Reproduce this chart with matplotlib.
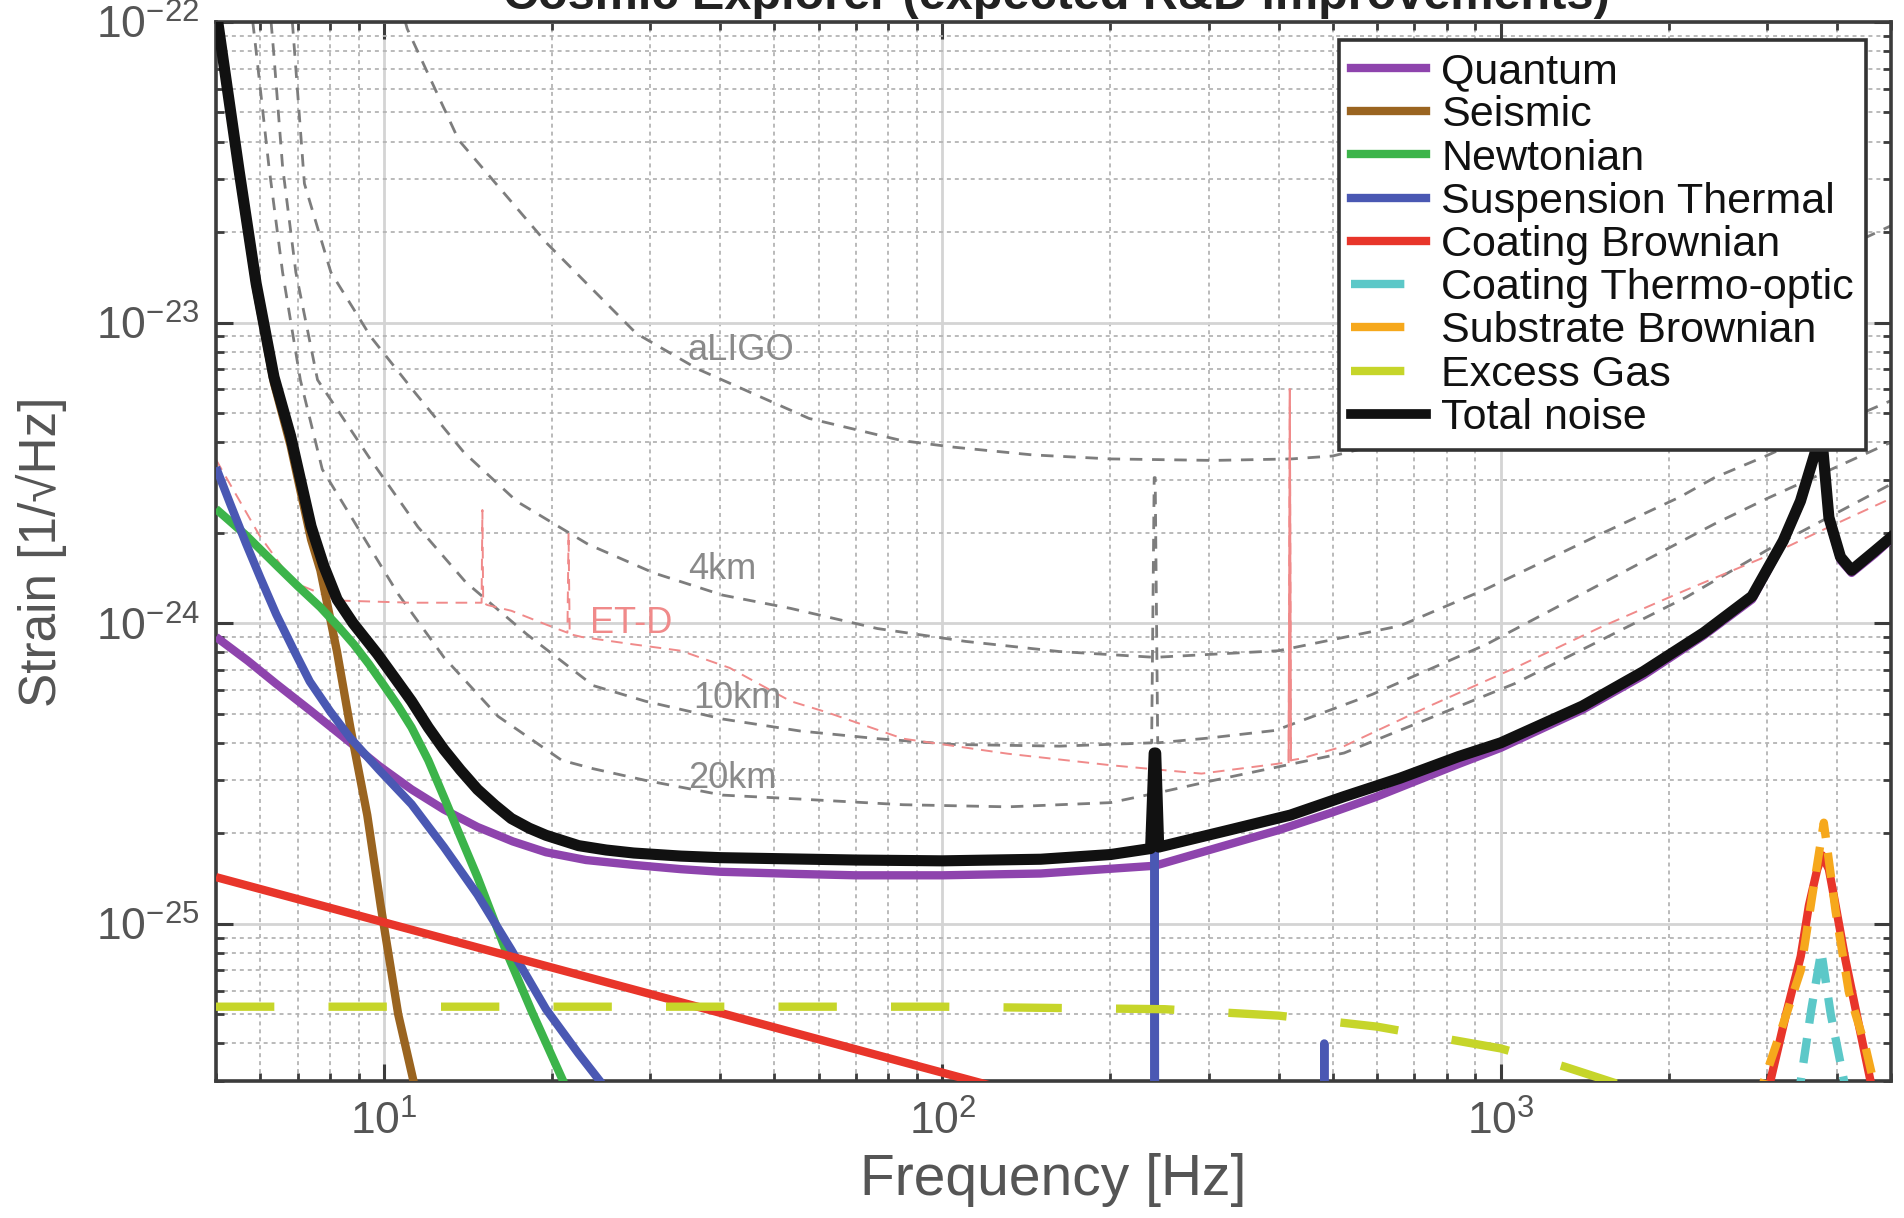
import numpy as np
import matplotlib
matplotlib.use("Agg")
import matplotlib.pyplot as plt
from matplotlib.lines import Line2D
from matplotlib.ticker import NullFormatter

plt.rcParams['font.family'] = ['Liberation Sans', 'DejaVu Sans']
plt.rcParams['mathtext.fontset'] = 'custom'
plt.rcParams['mathtext.rm'] = 'Liberation Sans'
plt.rcParams['mathtext.default'] = 'regular'

# ---- noise budget curves (frequency in Hz, strain in 1/sqrt(Hz)) ----
quantum_f = [5, 5.7, 6.4, 7.4, 8.5, 9.8, 11.2, 12.8, 14.7, 17, 19.5, 23, 28, 34, 40, 55, 70, 100,
             150, 240, 330, 400, 500, 600, 840, 1000, 1400, 1800, 2310, 2820, 3200, 3440, 3650,
             3740, 3870, 4060, 4250, 4680, 5000]
quantum_h = [9.0e-25, 7.5e-25, 6.3e-25, 5.1e-25, 4.15e-25, 3.35e-25, 2.8e-25, 2.4e-25, 2.1e-25,
             1.88e-25, 1.73e-25, 1.63e-25, 1.57e-25, 1.52e-25, 1.49e-25, 1.465e-25, 1.45e-25,
             1.45e-25, 1.47e-25, 1.56e-25, 1.85e-25, 2.05e-25, 2.35e-25, 2.65e-25, 3.4e-25,
             3.85e-25, 5.15e-25, 6.7e-25, 9.1e-25, 1.2e-24, 1.85e-24, 2.5e-24, 3.6e-24, 4.5e-24,
             2.2e-24, 1.62e-24, 1.47e-24, 1.7e-24, 1.9e-24]

seismic_f = [5, 5.5, 5.9, 6.35, 6.8, 7.4, 7.69, 8.24, 8.7, 9.33, 9.86, 10.6, 11.2, 11.6]
seismic_h = [1.07e-22, 3.1e-23, 1.3e-23, 6.3e-24, 3.9e-24, 1.9e-24, 1.5e-24, 8.0e-25, 4.5e-25,
             2.3e-25, 1.15e-25, 5.0e-26, 3.2e-26, 2.4e-26]

newtonian_f = [5, 5.66, 6.41, 7.0, 7.69, 8.3, 8.83, 9.4, 10, 10.6, 11.2, 12.0, 12.8, 13.7, 14.7,
               16.5, 18.4, 21.1, 22]
newtonian_h = [2.4e-24, 1.96e-24, 1.56e-24, 1.33e-24, 1.13e-24, 9.7e-25, 8.5e-25, 7.3e-25,
               6.2e-25, 5.3e-25, 4.5e-25, 3.5e-25, 2.64e-25, 1.95e-25, 1.43e-25, 8.2e-26, 5.1e-26,
               2.9e-26, 2.3e-26]

susp_f = [5, 5.3, 5.66, 6.0, 6.41, 6.9, 7.36, 8.0, 8.7, 9.8, 11.2, 12.8, 14.7, 16.9, 19.5, 22.3,
          24.7, 27, 236, 239.3, 240, 240.7, 244, 478, 482, 483, 484, 488, 5000]
susp_h = [3.3e-24, 2.5e-24, 1.84e-24, 1.42e-24, 1.07e-24, 8.1e-25, 6.4e-25, 5.1e-25, 4.15e-25,
          3.25e-25, 2.5e-25, 1.8e-25, 1.25e-25, 8.2e-26, 5.2e-26, 3.7e-26, 2.9e-26, 2.2e-26,
          8e-29, 2e-27, 1.75e-25, 2e-27, 8e-29, 1.3e-29, 3e-27, 4.0e-26, 3e-27, 1.3e-29, 1e-31]

coat_brown_f = [5, 120, 1000, 2500, 2800, 3044, 3240, 3446, 3564, 3689, 3765, 3870, 3979, 4146,
                4380, 4590, 4800, 5000]
coat_brown_h = [1.43e-25, 2.92e-26, 1.01e-26, 6.4e-27, 1.8e-26, 3.03e-26, 4.96e-26, 7.8e-26,
                1.15e-25, 1.52e-25, 1.69e-25, 1.52e-25, 1.15e-25, 7.55e-26, 4.6e-26, 3.03e-26,
                2.0e-26, 1.5e-26]

coat_to_f = [3000, 3446, 3600, 3750, 3900, 4120, 4500]
coat_to_h = [1e-26, 3.0e-26, 5.2e-26, 8.1e-26, 5.0e-26, 3.0e-26, 1.2e-26]

subst_f = [2500, 2960, 3200, 3446, 3616, 3790, 3979, 4205, 4500, 4650, 5000]
subst_h = [1.0e-26, 3.0e-26, 4.6e-26, 7.0e-26, 1.25e-25, 2.17e-25, 1.1e-25, 5.9e-26, 3.9e-26,
           3.0e-26, 2.0e-26]

gas_f = [5, 100, 250, 400, 600, 1000, 1300, 1700]
gas_h = [5.3e-26, 5.3e-26, 5.2e-26, 4.95e-26, 4.55e-26, 3.85e-26, 3.35e-26, 2.85e-26]

total_f = [5, 5.5, 5.9, 6.35, 6.8, 7.4, 7.8, 8.24, 8.8, 9.73, 10.5, 11.2, 12.0, 12.8, 13.7, 14.7,
           15.8, 16.9, 18.2, 19.5, 22.3, 25, 28, 34, 40, 70, 100, 150, 200, 236, 239.5, 241, 244,
           326, 420, 524, 660, 840, 1000, 1400, 1800, 2310, 2820, 3206, 3442, 3650, 3740, 3870,
           4060, 4250, 4680, 5000]
total_h = [1.1e-22, 3.2e-23, 1.35e-23, 6.6e-24, 4.2e-24, 2.1e-24, 1.55e-24, 1.2e-24, 1.0e-24,
           7.9e-25, 6.5e-25, 5.5e-25, 4.5e-25, 3.8e-25, 3.25e-25, 2.8e-25, 2.48e-25, 2.24e-25,
           2.08e-25, 1.97e-25, 1.82e-25, 1.76e-25, 1.72e-25, 1.68e-25, 1.66e-25, 1.63e-25,
           1.62e-25, 1.64e-25, 1.7e-25, 1.78e-25, 3.7e-25, 3.7e-25, 1.8e-25, 2.05e-25, 2.3e-25,
           2.65e-25, 3.05e-25, 3.6e-25, 4.0e-25, 5.3e-25, 6.9e-25, 9.3e-25, 1.23e-24, 1.88e-24,
           2.55e-24, 3.65e-24, 4.6e-24, 2.25e-24, 1.66e-24, 1.5e-24, 1.74e-24, 1.93e-24]

# ---- reference sensitivities ----
aligo_f = [10.5, 11.0, 13.6, 19.6, 28.3, 36.5, 57.7, 84.6, 105, 145, 200, 306, 422, 500, 700,
           1000, 2000, 3000, 5000]
aligo_h = [1.3e-22, 9.5e-23, 4.05e-23, 1.83e-23, 9.2e-24, 7.0e-24, 4.8e-24, 4.05e-24, 3.85e-24,
           3.63e-24, 3.52e-24, 3.48e-24, 3.52e-24, 3.6e-24, 4.2e-24, 5.5e-24, 9.5e-24, 1.35e-23,
           2.1e-23]

ce4_f = [6.8, 6.95, 7.2, 8.03, 9.47, 11.4, 13.9, 17.3, 23.2, 30.4, 40.4, 53.5, 76.5, 110, 162,
         240, 400, 660, 942, 1510, 2094, 2415, 2985, 4000, 5000]
ce4_h = [1.2e-22, 7.0e-23, 2.9e-23, 1.47e-23, 8.96e-24, 5.8e-24, 3.7e-24, 2.54e-24, 1.83e-24,
         1.47e-24, 1.24e-24, 1.12e-24, 9.6e-25, 8.7e-25, 8.05e-25, 7.7e-25, 8.1e-25, 9.8e-25,
         1.3e-24, 1.98e-24, 2.63e-24, 3.05e-24, 3.6e-24, 4.6e-24, 5.5e-24]

ce10_f = [6.2, 6.34, 6.58, 6.95, 7.6, 9.46, 11.5, 14.0, 18.0, 23.7, 29.4, 40.4, 55.6, 76.5, 105,
          162, 237, 239.5, 240.5, 243, 300, 395, 589, 942, 1510, 2415, 3000, 5000]
ce10_h = [1.3e-22, 8e-23, 3.3e-23, 1.47e-23, 6.45e-24, 3.5e-24, 2.09e-24, 1.37e-24, 9.2e-25,
          6.2e-25, 5.5e-25, 4.8e-25, 4.38e-25, 4.13e-25, 3.95e-25, 3.9e-25, 4.0e-25, 3.05e-24,
          3.05e-24, 4.0e-25, 4.15e-25, 4.4e-25, 5.8e-25, 8.5e-25, 1.35e-24, 2.14e-24, 2.6e-24,
          4.0e-24]

ce20_f = [5.7, 5.9, 6.22, 6.58, 7.08, 7.75, 10.6, 12.8, 16.0, 20.8, 23.7, 29.4, 40.4, 55.6, 85,
          131, 200, 248, 306, 524, 1060, 2148, 3062, 5000]
ce20_h = [1.4e-22, 8e-23, 3.3e-23, 1.47e-23, 6.45e-24, 3.25e-24, 1.25e-24, 7.7e-25, 4.9e-25,
          3.5e-25, 3.28e-25, 3.0e-25, 2.68e-25, 2.6e-25, 2.49e-25, 2.45e-25, 2.53e-25, 2.75e-25,
          3.0e-25, 3.7e-25, 6.3e-25, 1.22e-24, 1.79e-24, 2.9e-24]

etd_f = [5, 5.98, 6.87, 8.24, 11.2, 14.7, 14.95, 15.0, 15.05, 15.3, 16.9, 19.5, 21.3, 21.4, 21.5,
         22.6, 28, 34, 41.6, 53.5, 62, 85, 131, 200, 291, 395, 417, 419, 421, 440, 524, 745, 1060,
         1510, 2148, 3062, 3872, 5000]
etd_h = [3.5e-24, 1.96e-24, 1.37e-24, 1.19e-24, 1.17e-24, 1.17e-24, 1.17e-24, 2.38e-24, 1.17e-24,
         1.15e-24, 1.1e-24, 9.9e-25, 9.3e-25, 2.0e-24, 9.2e-25, 9.0e-25, 8.5e-25, 8.1e-25, 7.1e-25,
         5.5e-25, 5.06e-25, 4.13e-25, 3.68e-25, 3.37e-25, 3.16e-25, 3.4e-25, 3.45e-25, 6.0e-24,
         3.5e-25, 3.55e-25, 3.9e-25, 5.3e-25, 7.1e-25, 9.7e-25, 1.29e-24, 1.7e-24, 2.09e-24, 2.6e-24]

curve_labels = ['aLIGO', '4km', '10km', '20km', 'ET-D']
label_f = [35, 35, 35.8, 35, 23.4]
label_h = [8.1e-24, 1.51e-24, 5.6e-25, 3.05e-25, 1.0e-24]

legend_names = ['Quantum', 'Seismic', 'Newtonian', 'Suspension Thermal', 'Coating Brownian',
                'Coating Thermo-optic', 'Substrate Brownian', 'Excess Gas', 'Total noise']
colors = ['#8e44ad', '#9a6420', '#3cb44a', '#4a58b3', '#e8352a', '#5cc8c8', '#f6a81c',
          '#c6d52a', '#111111']

fig = plt.figure(figsize=(19.04, 12.18), dpi=100)
ax = fig.add_axes([216 / 1904, 1 - 1081 / 1218, 1675 / 1904, 1059 / 1218])
ax.set_xscale('log')
ax.set_yscale('log')
ax.set_xlim(5, 5000)
ax.set_ylim(3e-26, 1e-22)

# grid
ax.grid(which='major', color='#d4d4d4', lw=2.0, ls='-')
ax.grid(which='minor', color='#b4b4b4', lw=1.3, ls=(0, (2.2, 2.2)))
ax.set_axisbelow(True)

# reference curves
gray = '#7d7d7d'
for fx, hx in [(aligo_f, aligo_h), (ce4_f, ce4_h), (ce10_f, ce10_h), (ce20_f, ce20_h)]:
    ax.plot(fx, hx, color=gray, lw=2.0, dashes=(4.5, 3.5), zorder=2)
ax.plot(etd_f, etd_h, color='#f08a8a', lw=1.4, dashes=(6, 4), zorder=2)
ax.plot(etd_f[26:29], etd_h[26:29], color='#f08a8a', lw=1.4, zorder=2)

for name, fx, hx in zip(curve_labels, label_f, label_h):
    ax.text(fx, hx, name, fontsize=26, color='#f08a8a' if name == 'ET-D' else '#8a8a8a',
            ha='left', va='center', zorder=3)

# noise budget
lw = 6
series = [(quantum_f, quantum_h), (seismic_f, seismic_h), (newtonian_f, newtonian_h),
          (susp_f, susp_h), (coat_brown_f, coat_brown_h), (coat_to_f, coat_to_h),
          (subst_f, subst_h), (gas_f, gas_h), (total_f, total_h)]
handles = []
for i, ((fx, hx), name, c) in enumerate(zip(series, legend_names, colors)):
    kw = dict(color=c, lw=lw, zorder=4 + i, solid_capstyle='butt')
    if name in ('Coating Thermo-optic', 'Substrate Brownian'):
        ax.plot(fx, hx, dashes=(3.0, 1.8), dash_capstyle='butt', **kw)
        handles.append(Line2D([], [], color=c, lw=lw, dashes=(6.4, 5), dash_capstyle='butt'))
    elif name == 'Excess Gas':
        ax.plot(fx, hx, dashes=(7, 6.5), dash_capstyle='butt', **kw)
        handles.append(Line2D([], [], color=c, lw=lw, dashes=(6.4, 5), dash_capstyle='butt'))
    elif name == 'Total noise':
        ax.plot(fx, hx, color=c, lw=8, zorder=20)
        handles.append(Line2D([], [], color=c, lw=lw + 1))
    else:
        ax.plot(fx, hx, **kw)
        handles.append(Line2D([], [], color=c, lw=lw))

# axes styling
for s in ax.spines.values():
    s.set_color('#3c3c3c')
    s.set_linewidth(2.6)
ax.tick_params(which='both', direction='in', top=True, right=True, colors='#3c3c3c',
               labelcolor='#555555')
ax.tick_params(which='major', length=12, width=2.2, labelsize=32)
ax.tick_params(which='minor', length=6, width=2.0)
ax.tick_params(axis='x', which='major', pad=14)
ax.tick_params(axis='y', which='major', pad=12)
ax.set_xticks([10, 100, 1000])
ax.set_xticklabels([r'$10^{1}$', r'$10^{2}$', r'$10^{3}$'])
ax.set_yticks([1e-25, 1e-24, 1e-23, 1e-22])
ax.set_yticklabels([r'$10^{-25}$', r'$10^{-24}$', r'$10^{-23}$', r'$10^{-22}$'])
ax.xaxis.set_minor_formatter(NullFormatter())
ax.yaxis.set_minor_formatter(NullFormatter())

ax.set_xlabel('Frequency [Hz]', fontsize=41, color='#555555')
ax.xaxis.set_label_coords(0.5, -0.068)
ax.set_ylabel('Strain [1/\u221aHz]', fontsize=37, color='#555555')
ax.yaxis.set_label_coords(-0.089, 0.5)

leg = ax.legend(handles, legend_names, loc='upper right',
                bbox_to_anchor=(1866 / 1904, 1 - 40 / 1218), bbox_transform=fig.transFigure,
                fontsize=31, frameon=True, fancybox=False, framealpha=1, borderaxespad=0,
                handlelength=1.75, handletextpad=0.35, borderpad=0.28, labelspacing=0.075)
leg.get_frame().set_edgecolor('#333333')
leg.get_frame().set_linewidth(2.6)
leg.set_zorder(30)
for t in leg.get_texts():
    t.set_color('#111111')

fig.text(0.555, 0.993, 'Cosmic Explorer (expected R&D improvements)', ha='center',
         va='baseline', fontsize=35, fontweight='bold', color='#222222')

fig.savefig('out.png', dpi=100)
